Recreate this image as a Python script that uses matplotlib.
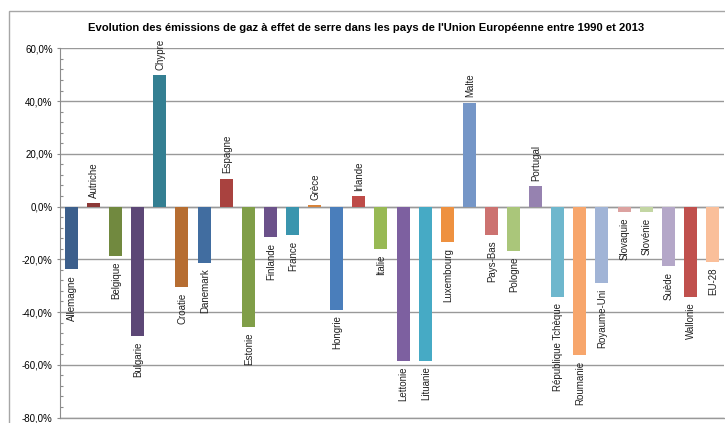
import matplotlib.pyplot as plt
from matplotlib.ticker import MultipleLocator, FuncFormatter
from matplotlib.patches import Rectangle

pays = ['Allemagne', 'Autriche', 'Belgique', 'Bulgarie', 'Chypre', 'Croatie',
        'Danemark', 'Espagne', 'Estonie', 'Finlande', 'France', 'Grèce',
        'Hongrie', 'Irlande', 'Italie', 'Lettonie', 'Lituanie', 'Luxembourg',
        'Malte', 'Pays-Bas', 'Pologne', 'Portugal', 'République Tchèque',
        'Roumanie', 'Royaume-Uni', 'Slovaquie', 'Slovénie', 'Suède',
        'Wallonie', 'EU-28']
evolution = [-23.8, 1.2, -18.8, -49.1, 49.7, -30.5,
             -21.4, 10.6, -45.7, -11.6, -10.9, 0.4,
             -39.2, 3.9, -16.1, -58.5, -58.5, -13.5,
             39.3, -10.9, -16.9, 7.7, -34.3,
             -56.3, -29.0, -2.1, -2.1, -22.6,
             -34.3, -21.1]
couleurs = ['#3c5f8c', '#8c3836', '#71893f', '#5c4776', '#347f92', '#b66d31',
            '#416da0', '#a9423f', '#809e48', '#6b518a', '#3a95ae', '#d8833a',
            '#4a7ebb', '#be4b48', '#98b954', '#7d60a0', '#46aac5', '#ee9140',
            '#7596c7', '#cc7270', '#aac67a', '#9682b0', '#6eb7cd',
            '#f7a66c', '#a1b4d6', '#dca2a0', '#c3d6a3', '#b4a7c8',
            '#c0504d', '#fabf9a']

plt.rcParams['font.family'] = ['Liberation Sans', 'DejaVu Sans']

fig = plt.figure(figsize=(7.25, 4.23), dpi=100)
ax = fig.add_axes([0.0833, 0.0130, 0.9147, 0.8728])

x = range(len(pays))
ax.bar(x, evolution, width=0.59, color=couleurs, zorder=3)

# nom du pays au bout de chaque barre
for i, (nom, v) in enumerate(zip(pays, evolution)):
    if v >= 0:
        ax.annotate(nom, (i, v), xytext=(0.5, 4), textcoords='offset points',
                    rotation=90, ha='center', va='bottom', fontsize=7,
                    color='#222222', zorder=4)
    else:
        ax.annotate(nom, (i, v), xytext=(0.5, -4), textcoords='offset points',
                    rotation=90, ha='center', va='top', fontsize=7,
                    color='#222222', zorder=4)

ax.set_xlim(-0.5, len(pays) - 0.5)
ax.set_ylim(-80, 60)
ax.yaxis.set_major_locator(MultipleLocator(20))
ax.yaxis.set_minor_locator(MultipleLocator(4))
ax.yaxis.set_major_formatter(FuncFormatter(lambda v, p: ('%.1f%%' % v).replace('.', ',')))
ax.tick_params(axis='y', which='major', direction='out', length=2.5, width=0.8,
               color='#8c8c8c', labelsize=7, pad=3)
ax.tick_params(axis='y', which='minor', direction='in', length=2, width=0.8,
               color='#8c8c8c')
ax.set_xticks([])

ax.grid(axis='y', color='#999999', linewidth=1, zorder=0)
ax.axhline(0, color='#999999', linewidth=1, zorder=2)
ax.axhline(-80, color='#999999', linewidth=1, zorder=2, clip_on=False)
for s in ['top', 'right', 'bottom']:
    ax.spines[s].set_visible(False)
ax.spines['left'].set_color('#8c8c8c')
ax.spines['left'].set_linewidth(0.8)

fig.text(0.505, 0.934,
         "Evolution des émissions de gaz à effet de serre dans les pays de l'Union Européenne entre 1990 et 2013",
         ha='center', va='center', fontsize=8.1, fontweight='bold')

# cadre du graphique
fig.patches.append(Rectangle((9 / 725, -0.1), 1.0, 1.1 - 11 / 423,
                             transform=fig.transFigure, fill=False,
                             edgecolor='#a6a6a6', linewidth=1))

fig.savefig('out.png', dpi=100)
